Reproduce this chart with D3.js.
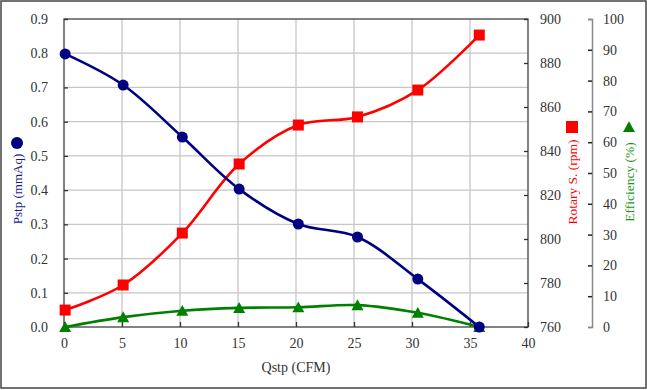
<!DOCTYPE html>
<html>
<head>
<meta charset="utf-8">
<script src="https://cdn.jsdelivr.net/npm/d3@7"></script>
<style>
  body { margin: 0; background: #fff; }
  svg text { font-family: 'Liberation Serif', 'Times New Roman', Times, 'DejaVu Serif', serif; }
</style>
</head>
<body>
<div id="chart"></div>
<script>
// values
var qstp = [0.1, 5.1, 10.2, 15.1, 20.2, 25.3, 30.5, 35.8];
var pstp = [0.798, 0.707, 0.555, 0.403, 0.301, 0.263, 0.140, 0.0];
var rotary = [767.7, 779.1, 802.7, 834.1, 851.8, 855.5, 867.7, 892.7];
var efficiency = [0, 3.2, 5.3, 6.2, 6.4, 7.1, 4.6, 0];

var xTicks = [0, 5, 10, 15, 20, 25, 30, 35, 40];
var pTicks = [0, 0.1, 0.2, 0.3, 0.4, 0.5, 0.6, 0.7, 0.8, 0.9];
var rTicks = [760, 780, 800, 820, 840, 860, 880, 900];
var eTicks = [0, 10, 20, 30, 40, 50, 60, 70, 80, 90, 100];

var svgWidth = 647;
var svgHeight = 390;
var serif = "'Liberation Serif', 'Times New Roman', Times, 'DejaVu Serif', serif";

// plot area (note: "top" is taken by window.top, so plot* names)
var margin = { top: 19, bottom: 63, left: 64, right: 119 };
var plotLeft = margin.left, plotTop = margin.top;
var plotRight = svgWidth - margin.right;
var plotBottom = svgHeight - margin.bottom;

var svg = d3.select("#chart").append("svg")
  .attr("width", svgWidth)
  .attr("height", svgHeight)
  .attr("font-family", serif);

// outer frame
svg.append("rect")
  .attr("x", 1).attr("y", 1)
  .attr("width", 645).attr("height", 387)
  .attr("fill", "#fff")
  .attr("stroke", "#444")
  .attr("stroke-width", 1.5);

var x = d3.scaleLinear().domain([0, 40]).range([plotLeft, plotRight]);
var yP = d3.scaleLinear().domain([0, 0.9]).range([plotBottom, plotTop]);
var yR = d3.scaleLinear().domain([760, 900]).range([plotBottom, plotTop]);
var yE = d3.scaleLinear().domain([0, 100]).range([plotBottom, plotTop]);

// grid
var grid = svg.append("g").attr("stroke", "#c6c6c6").attr("stroke-width", 1.3);
grid.selectAll(".h").data(pTicks.slice(1, -1)).enter().append("line")
  .attr("x1", plotLeft).attr("x2", plotRight)
  .attr("y1", d => yP(d)).attr("y2", d => yP(d));
grid.selectAll(".v").data(xTicks.slice(1, -1)).enter().append("line")
  .attr("y1", plotTop).attr("y2", plotBottom)
  .attr("x1", d => x(d)).attr("x2", d => x(d));

// plot box
svg.append("rect")
  .attr("x", plotLeft).attr("y", plotTop)
  .attr("width", plotRight - plotLeft).attr("height", plotBottom - plotTop)
  .attr("fill", "none")
  .attr("stroke", "#404040")
  .attr("stroke-width", 1.3);

function styleAxis(g) {
  g.attr("font-family", serif);
  g.select(".domain").remove();
  g.selectAll(".tick line").attr("stroke", "#333").attr("stroke-width", 1.3);
  g.selectAll(".tick text").attr("fill", "#333").style("font-size", "14px");
}

// x axis
svg.append("g")
  .attr("transform", `translate(0,${plotBottom})`)
  .call(d3.axisBottom(x).tickValues(xTicks).tickSize(-5).tickPadding(11).tickFormat(d3.format("d")))
  .call(styleAxis);

// left axis
svg.append("g")
  .attr("transform", `translate(${plotLeft},0)`)
  .call(d3.axisLeft(yP).tickValues(pTicks).tickSize(-4).tickPadding(16).tickFormat(d3.format(".1f")))
  .call(styleAxis);

// rotary axis
svg.append("g")
  .attr("transform", `translate(${plotRight},0)`)
  .call(d3.axisRight(yR).tickValues(rTicks).tickSize(-4).tickPadding(12).tickFormat(d3.format("d")))
  .call(styleAxis);

// efficiency axis
var effX = 592;
var effAxis = svg.append("g")
  .attr("transform", `translate(${effX},0)`)
  .attr("font-family", serif)
  .call(d3.axisRight(yE).tickValues(eTicks).tickSize(-4).tickSizeOuter(-4).tickPadding(11).tickFormat(d3.format("d")));
effAxis.attr("font-family", serif);
effAxis.select(".domain").attr("stroke", "#888").attr("stroke-width", 1.5);
effAxis.selectAll(".tick line").attr("stroke", d => (d === 0 || d === 100) ? "#888" : "#222").attr("stroke-width", 1.5);
effAxis.selectAll(".tick text").attr("fill", "#333").style("font-size", "14px");

// series lines
var curve = d3.curveCatmullRom.alpha(0.5);

function drawLine(vals, yScale, color) {
  var line = d3.line()
    .x((d, i) => x(qstp[i]))
    .y(d => yScale(d))
    .curve(curve);
  svg.append("path")
    .datum(vals)
    .attr("d", line)
    .attr("fill", "none")
    .attr("stroke", color)
    .attr("stroke-width", 2.6);
}

drawLine(rotary, yR, "#ff0000");
drawLine(efficiency, yE, "#008000");
drawLine(pstp, yP, "#000080");

// markers
var triPath = "M0,-5.8L6,5L-6,5Z";

svg.append("g").selectAll("rect").data(rotary).enter().append("rect")
  .attr("x", (d, i) => x(qstp[i]) - 5.5)
  .attr("y", d => yR(d) - 5.5)
  .attr("width", 11).attr("height", 11)
  .attr("fill", "#ff0000");

svg.append("g").selectAll("path").data(efficiency).enter().append("path")
  .attr("d", triPath)
  .attr("transform", (d, i) => `translate(${x(qstp[i])},${yE(d)})`)
  .attr("fill", "#008000");

svg.append("g").selectAll("circle").data(pstp).enter().append("circle")
  .attr("cx", (d, i) => x(qstp[i]))
  .attr("cy", d => yP(d))
  .attr("r", 5.5)
  .attr("fill", "#000080");

// axis titles
svg.append("text")
  .attr("x", (plotLeft + plotRight) / 2).attr("y", 372)
  .attr("text-anchor", "middle")
  .attr("fill", "#333")
  .style("font-size", "14px")
  .text("Qstp (CFM)");

svg.append("text")
  .attr("transform", "translate(17,189) rotate(-90)")
  .attr("dy", "0.35em")
  .attr("text-anchor", "middle")
  .attr("fill", "#1a1a8c")
  .style("font-size", "13px")
  .text("Pstp (mmAq)");
svg.append("circle").attr("cx", 17).attr("cy", 143).attr("r", 6).attr("fill", "#000080");

svg.append("text")
  .attr("transform", "translate(572,182) rotate(-90)")
  .attr("dy", "0.35em")
  .attr("text-anchor", "middle")
  .attr("fill", "#ff0000")
  .style("font-size", "13.5px")
  .text("Rotary S. (rpm)");
svg.append("rect").attr("x", 566).attr("y", 121).attr("width", 12).attr("height", 12).attr("fill", "#ff0000");

svg.append("text")
  .attr("transform", "translate(629,182) rotate(-90)")
  .attr("dy", "0.35em")
  .attr("text-anchor", "middle")
  .attr("fill", "#1a961a")
  .style("font-size", "13.5px")
  .text("Efficiency (%)");
svg.append("path").attr("d", triPath).attr("transform", "translate(629,127)").attr("fill", "#008000");
</script>
</body>
</html>
